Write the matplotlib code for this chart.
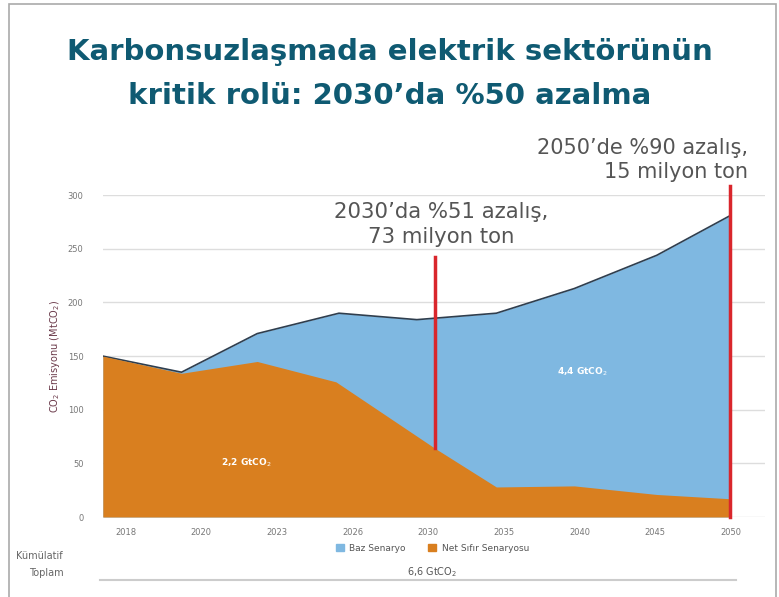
import numpy as np
import matplotlib.pyplot as plt
from matplotlib.patches import Rectangle
from matplotlib.lines import Line2D

# x eksen etiketleri (eşit aralıklı)
years = ['2018', '2020', '2023', '2026', '2030', '2035', '2040', '2045', '2050']

# Baz senaryo (MtCO2), x konumu etiket sırasına göre
baz_x = [-0.30, 0.74, 1.74, 2.82, 3.85, 4.90, 5.93, 7.02, 7.99]
baz_y = [150, 135, 171, 190, 184, 190, 213, 244, 281]

# Net sıfır senaryosu (MtCO2)
net_x = [-0.30, 0.74, 1.74, 2.78, 4.09, 4.90, 5.93, 7.02, 7.99]
net_y = [150, 134, 145, 126, 64, 28, 29, 21, 17]

# kırmızı işaret çizgileri: (x, alt, üst)
mark_2030 = (4.09, 64, 242)
mark_2050 = (7.99, 0, 309)

blue = '#7fb8e1'
orange = '#d97f1f'
red = '#d9262c'
title_col = '#0f5a72'
grey_txt = '#555555'

fig = plt.figure(figsize=(7.79, 5.97), dpi=100)
ax = fig.add_axes([0.132, 0.134, 0.850, 0.539])

# grid
ax.set_ylim(0, 300)
ax.set_xlim(-0.30, 8.45)
ax.set_yticks(np.arange(0, 301, 50))
ax.yaxis.grid(True, color='#dddddd', linewidth=1.0, zorder=0)
ax.set_axisbelow(True)

ax.fill_between(baz_x, baz_y, 0, color=blue, linewidth=0, zorder=1)
ax.plot(baz_x, baz_y, color='#2f3e4e', linewidth=1.2, zorder=2)
ax.fill_between(net_x, net_y, 0, color=orange, linewidth=0, zorder=3)

ax.plot([mark_2030[0]] * 2, mark_2030[1:], color=red, linewidth=2.5, zorder=4, clip_on=False)
ax.plot([mark_2050[0]] * 2, mark_2050[1:], color=red, linewidth=2.5, zorder=4, clip_on=False)

for s in ax.spines.values():
    s.set_visible(False)
ax.tick_params(axis='both', length=0, labelsize=6, labelcolor='#777777')
ax.set_xticks(range(len(years)))
ax.set_xticklabels(years)
ax.tick_params(axis='x', pad=8)
ax.tick_params(axis='y', pad=14)
ax.set_ylabel('CO$_2$ Emisyonu (MtCO$_2$)', fontsize=7, color='#6b3a4a')
ax.yaxis.set_label_coords(-0.062, 0.5)

# alan etiketleri
ax.text(1.6, 51, '2,2 GtCO$_2$', color='white', fontsize=6.5, fontweight='bold', ha='center', va='center', zorder=5)
ax.text(6.04, 135, '4,4 GtCO$_2$', color='white', fontsize=6.5, fontweight='bold', ha='center', va='center', zorder=5)

# açıklamalar
ax.text(4.17, 252, "2030’da %51 azalış,\n73 milyon ton", color=grey_txt, fontsize=15.3,
        ha='center', va='bottom', linespacing=1.3, zorder=5)
ax.text(8.23, 312, "2050’de %90 azalış,\n15 milyon ton", color=grey_txt, fontsize=15,
        ha='right', va='bottom', linespacing=1.3, zorder=5, clip_on=False)

# başlık
fig.text(0.50, 0.913, 'Karbonsuzlaşmada elektrik sektörünün', color=title_col,
         fontsize=21, fontweight='bold', ha='center', va='center')
fig.text(0.50, 0.84, "kritik rolü: 2030’da %50 azalma", color=title_col,
         fontsize=21, fontweight='bold', ha='center', va='center')

# lejant
handles = [Rectangle((0, 0), 1, 1, color=blue), Rectangle((0, 0), 1, 1, color=orange)]
fig.legend(handles, ['Baz Senaryo', 'Net Sıfır Senaryosu'], loc='center',
           bbox_to_anchor=(0.555, 0.082), ncol=2, frameon=False, fontsize=6.5,
           handlelength=0.9, handleheight=0.9, columnspacing=2.5, handletextpad=0.6,
           labelcolor='#555555')

# kümülatif toplam
fig.text(0.555, 0.042, '6,6 GtCO$_2$', fontsize=7, color='#555555', ha='center', va='center')
fig.add_artist(Line2D([0.128, 0.945], [0.028, 0.028], color='#cccccc', linewidth=1.5))
fig.text(0.051, 0.068, 'Kümülatif', fontsize=7, color='#666666', ha='center', va='center')
fig.text(0.060, 0.041, 'Toplam', fontsize=7, color='#666666', ha='center', va='center')

# çerçeve
fig.add_artist(Rectangle((0.011, -0.01), 0.985, 1.003, fill=False, edgecolor='#aaaaaa', linewidth=1.2))

fig.savefig('out.png', dpi=100)
